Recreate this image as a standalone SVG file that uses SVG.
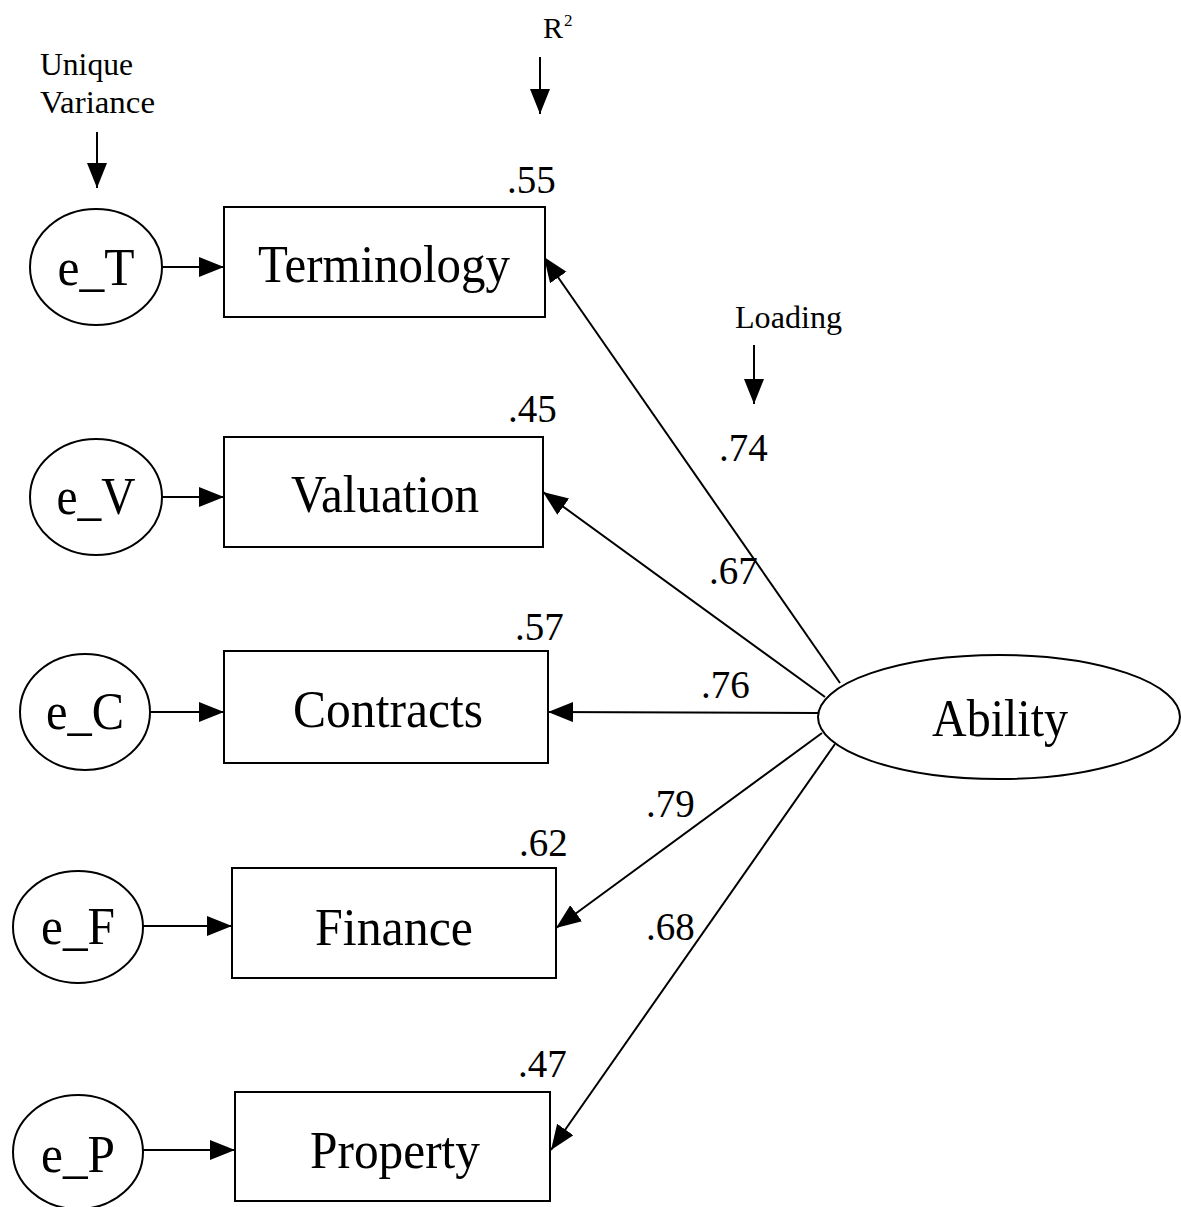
<svg xmlns="http://www.w3.org/2000/svg" width="1181" height="1207" viewBox="0 0 1181 1207">
<style>
.n{fill:#fff;stroke:#000;stroke-width:2}
.t{font-family:"Liberation Serif","Times New Roman",serif;fill:#000}
.big{font-size:52px}
.num{font-size:39px}
.sm{font-size:31px}
.c{fill:none;stroke:#000;stroke-width:2}
</style>
<defs>
<marker id="ah" markerUnits="userSpaceOnUse" markerWidth="27" markerHeight="22" refX="25" refY="10" orient="auto">
<path d="M0,0 L25,10 L0,20 Z" fill="#000"/>
</marker>
</defs>
<rect width="1181" height="1207" fill="#fff"/>
<g id="annotations">
<text class="t sm" x="40" y="75" textLength="93" lengthAdjust="spacingAndGlyphs">Unique</text>
<text class="t sm" x="40" y="113" textLength="115" lengthAdjust="spacingAndGlyphs">Variance</text>
<text class="t" x="543" y="38" font-size="30">R</text>
<text class="t" x="564" y="26" font-size="17">2</text>
<text class="t sm" x="735" y="328" textLength="107" lengthAdjust="spacingAndGlyphs">Loading</text>
</g>
<g id="connectors">
<line class="c" x1="97" y1="132" x2="97" y2="188" marker-end="url(#ah)"/>
<line class="c" x1="540" y1="57" x2="540" y2="114" marker-end="url(#ah)"/>
<line class="c" x1="754" y1="345" x2="754" y2="404" marker-end="url(#ah)"/>
<line class="c" x1="162" y1="267" x2="224" y2="267" marker-end="url(#ah)"/>
<line class="c" x1="162" y1="497" x2="224" y2="497" marker-end="url(#ah)"/>
<line class="c" x1="150" y1="712" x2="224" y2="712" marker-end="url(#ah)"/>
<line class="c" x1="143" y1="926" x2="232" y2="926" marker-end="url(#ah)"/>
<line class="c" x1="143" y1="1150" x2="235" y2="1150" marker-end="url(#ah)"/>
<line class="c" x1="840" y1="683" x2="544" y2="257" marker-end="url(#ah)"/>
<line class="c" x1="825" y1="697" x2="543" y2="492" marker-end="url(#ah)"/>
<line class="c" x1="818" y1="713" x2="548" y2="712" marker-end="url(#ah)"/>
<line class="c" x1="822" y1="733" x2="556" y2="928" marker-end="url(#ah)"/>
<line class="c" x1="835" y1="744" x2="551" y2="1150" marker-end="url(#ah)"/>
<text class="t num" x="719" y="461">.74</text>
<text class="t num" x="709" y="584">.67</text>
<text class="t num" x="701" y="698">.76</text>
<text class="t num" x="646" y="817">.79</text>
<text class="t num" x="646" y="940">.68</text>
</g>
<g id="e_T"><ellipse class="n" cx="96" cy="267" rx="66" ry="58"/><text class="t big" x="96" y="285" text-anchor="middle" textLength="77" lengthAdjust="spacingAndGlyphs">e_T</text></g>
<g id="e_V"><ellipse class="n" cx="96" cy="497" rx="66" ry="58"/><text class="t big" x="96" y="514" text-anchor="middle" textLength="79" lengthAdjust="spacingAndGlyphs">e_V</text></g>
<g id="e_C"><ellipse class="n" cx="85" cy="712" rx="65" ry="58"/><text class="t big" x="85" y="729" text-anchor="middle" textLength="78" lengthAdjust="spacingAndGlyphs">e_C</text></g>
<g id="e_F"><ellipse class="n" cx="78" cy="927" rx="65" ry="56"/><text class="t big" x="78" y="944" text-anchor="middle" textLength="74" lengthAdjust="spacingAndGlyphs">e_F</text></g>
<g id="e_P"><ellipse class="n" cx="78" cy="1152" rx="65" ry="57"/><text class="t big" x="78" y="1172" text-anchor="middle" textLength="74" lengthAdjust="spacingAndGlyphs">e_P</text></g>
<g id="Terminology"><rect class="n" x="224" y="207" width="321" height="110"/><text class="t big" x="384" y="282" text-anchor="middle" textLength="252" lengthAdjust="spacingAndGlyphs">Terminology</text><text class="t num" x="507" y="193">.55</text></g>
<g id="Valuation"><rect class="n" x="224" y="437" width="319" height="110"/><text class="t big" x="385" y="512" text-anchor="middle" textLength="188" lengthAdjust="spacingAndGlyphs">Valuation</text><text class="t num" x="508" y="422">.45</text></g>
<g id="Contracts"><rect class="n" x="224" y="651" width="324" height="112"/><text class="t big" x="388" y="727" text-anchor="middle" textLength="190" lengthAdjust="spacingAndGlyphs">Contracts</text><text class="t num" x="515" y="640">.57</text></g>
<g id="Finance"><rect class="n" x="232" y="868" width="324" height="110"/><text class="t big" x="394" y="945" text-anchor="middle" textLength="158" lengthAdjust="spacingAndGlyphs">Finance</text><text class="t num" x="519" y="856">.62</text></g>
<g id="Property"><rect class="n" x="235" y="1092" width="315" height="109"/><text class="t big" x="395" y="1168" text-anchor="middle" textLength="170" lengthAdjust="spacingAndGlyphs">Property</text><text class="t num" x="518" y="1077">.47</text></g>
<g id="Ability"><ellipse class="n" cx="999" cy="717" rx="181" ry="62"/><text class="t big" x="1000" y="736" text-anchor="middle" textLength="136" lengthAdjust="spacingAndGlyphs">Ability</text></g>
</svg>
